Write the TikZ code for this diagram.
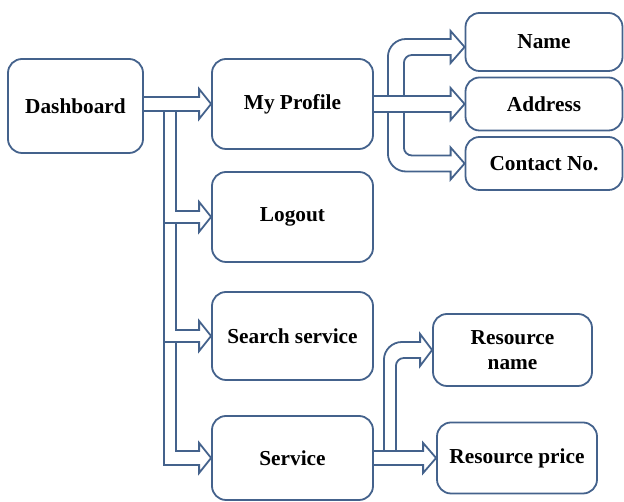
\documentclass[tikz,border=0pt]{standalone}
\usepackage{fontspec}
\setmainfont{Liberation Serif}
\usetikzlibrary{calc}
\definecolor{edge}{RGB}{68,98,140}
\tikzset{
  box/.style={draw=edge, line width=1.8pt, rounded corners=14pt, fill=white,
    inner sep=0pt, align=center, font=\bfseries\fontsize{21.3}{25}\selectfont},
  blk/.style={draw=edge, line width=1.8pt, line join=miter}
}
\begin{document}
\begin{tikzpicture}[x=1pt,y=1pt]
\useasboundingbox (0,0) rectangle (624,502);
% nodes
\node[box, minimum width=135pt, minimum height=94pt] (dash) at (75.5,396) {Dashboard};
\node[box, minimum width=161pt, minimum height=90pt] (prof) at (292.5,398) {My Profile};
\node[box, minimum width=161pt, minimum height=90pt] (logout) at (292.5,285) {Logout};
\node[box, minimum width=161pt, minimum height=88pt] (search) at (292.5,166) {Search service};
\node[box, minimum width=161pt, minimum height=84pt] (service) at (292.5,44) {Service};
\node[box, minimum width=157pt, minimum height=58pt] (name) at (544,460) {Name};
\node[box, minimum width=157pt, minimum height=53pt] (addr) at (544,398) {Address};
\node[box, minimum width=157pt, minimum height=53pt] (contact) at (544,338.5) {Contact No.};
\node[box, minimum width=159pt, minimum height=72pt] (rname) at (512.5,152) {Resource\\name};
\node[box, minimum width=160pt, minimum height=71pt] (rprice) at (517,44) {Resource price};

% Dashboard -> My Profile
\coordinate (m0) at (dash.east |- prof.west);
\draw[blk] ($(m0)+(0,7)$) -- ($(prof.west)+(-12,7)$) -- ($(prof.west)+(-12,15)$) -- (prof.west)
  -- ($(prof.west)+(-12,-15)$) -- ($(prof.west)+(-12,-7)$) -- ($(m0)+(0,-7)$);

% trunk
\coordinate (tO) at ($(m0)+(20,-7)$);
\coordinate (tI) at ($(m0)+(32,-7)$);
\coordinate (lgA) at ($(logout.west)+(-12,6)$);
\coordinate (lgB) at ($(logout.west)+(-12,-6)$);
\coordinate (srA) at ($(search.west)+(-12,6)$);
\coordinate (srB) at ($(search.west)+(-12,-6)$);
\coordinate (svA) at ($(service.west)+(-12,7)$);
\coordinate (svB) at ($(service.west)+(-12,-7)$);
\draw[blk] (tI) -- (tI |- lgA) -- (lgA) -- ($(logout.west)+(-12,15)$) -- (logout.west)
  -- ($(logout.west)+(-12,-15)$) -- (lgB) -- (tO |- lgB);
\draw[blk] (tI |- lgB) -- (tI |- srA) -- (srA) -- ($(search.west)+(-12,15)$) -- (search.west)
  -- ($(search.west)+(-12,-15)$) -- (srB) -- (tO |- srB);
\draw[blk] (tI |- srB) -- (tI |- svA) -- (svA) -- ($(service.west)+(-12,15)$) -- (service.west)
  -- ($(service.west)+(-12,-15)$) -- (svB) -- (tO |- svB) -- (tO);

% My Profile -> Address
\draw[blk] ($(prof.east)+(0,8)$) -- ($(addr.west)+(-14,8)$) -- ($(addr.west)+(-14,16)$) -- (addr.west)
  -- ($(addr.west)+(-14,-16)$) -- ($(addr.west)+(-14,-8)$) -- ($(prof.east)+(0,-8)$);
% My Profile -> Name
\coordinate (nT) at ($(name.west)+(0,-5)$);
\draw[blk] ($(prof.east)+(14,8)$) -- ($(prof.east |- nT)+(14,-10)$) arc[start angle=180,end angle=90,radius=18pt]
  -- ($(nT)+(-14,8)$) -- ($(nT)+(-14,16)$) -- (nT) -- ($(nT)+(-14,-16)$) -- ($(nT)+(-14,-8)$)
  -- ($(prof.east |- nT)+(38,-8)$) arc[start angle=90,end angle=180,radius=8pt]
  -- ($(prof.east)+(30,8)$);
% My Profile -> Contact No.
\coordinate (cT) at (contact.west);
\draw[blk] ($(prof.east)+(14,-8)$) -- ($(prof.east |- cT)+(14,10)$) arc[start angle=180,end angle=270,radius=18pt]
  -- ($(cT)+(-14,-8)$) -- ($(cT)+(-14,-16)$) -- (cT) -- ($(cT)+(-14,16)$) -- ($(cT)+(-14,8)$)
  -- ($(prof.east |- cT)+(38,8)$) arc[start angle=270,end angle=180,radius=8pt]
  -- ($(prof.east)+(30,-8)$);

% Service -> Resource price
\draw[blk] ($(service.east)+(0,7)$) -- ($(rprice.west)+(-13,7)$) -- ($(rprice.west)+(-13,15)$) -- (rprice.west)
  -- ($(rprice.west)+(-13,-15)$) -- ($(rprice.west)+(-13,-7)$) -- ($(service.east)+(0,-7)$);
% Service -> Resource name
\draw[blk] ($(service.east)+(10,7)$) -- ($(service.east |- rname.west)+(10,-10)$) arc[start angle=180,end angle=90,radius=18pt]
  -- ($(rname.west)+(-12,8)$) -- ($(rname.west)+(-12,16)$) -- (rname.west) -- ($(rname.west)+(-12,-16)$)
  -- ($(rname.west)+(-12,-8)$) -- ($(service.east |- rname.west)+(30,-8)$) arc[start angle=90,end angle=180,radius=8pt]
  -- ($(service.east)+(22,7)$);
\end{tikzpicture}
\end{document}
